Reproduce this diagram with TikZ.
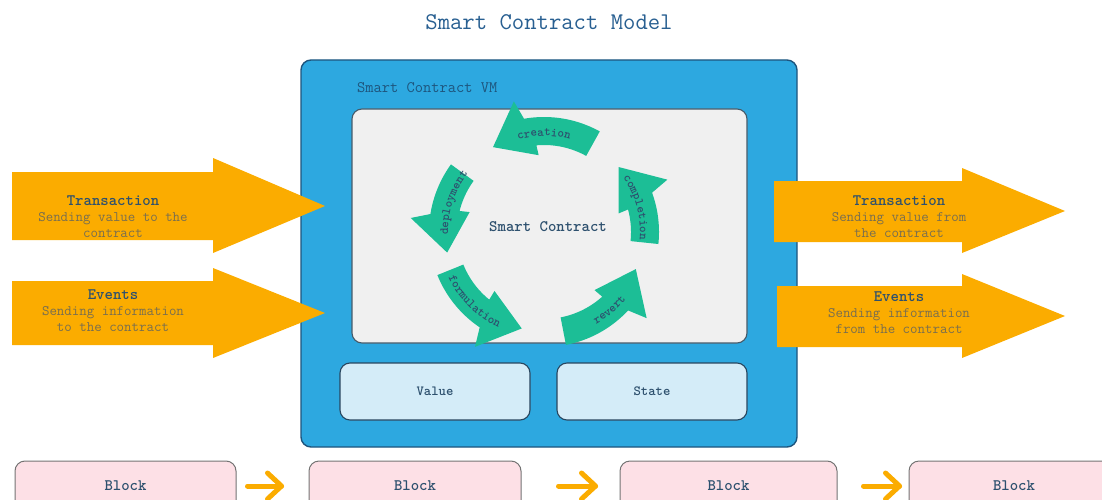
\documentclass[tikz,border=0pt]{standalone}
\usepackage{fontspec}
\usetikzlibrary{calc,decorations.text}
\definecolor{vmblue}{RGB}{45,168,224}
\definecolor{vmedge}{RGB}{30,85,125}
\definecolor{innerfill}{RGB}{240,240,240}
\definecolor{inneredge}{RGB}{70,90,105}
\definecolor{valfill}{RGB}{212,236,248}
\definecolor{valedge}{RGB}{40,70,95}
\definecolor{blkfill}{RGB}{253,224,230}
\definecolor{blkedge}{RGB}{115,115,115}
\definecolor{orng}{RGB}{251,172,0}
\definecolor{teal}{RGB}{28,190,150}
\definecolor{hdr}{RGB}{45,80,110}
\definecolor{subt}{RGB}{120,110,80}
\definecolor{titleblue}{RGB}{40,95,145}
\newcommand\cycfont{\ttfamily\bfseries\fontsize{12.5}{13}\selectfont}
% #1 start angle, #2 tip angle (screen angles, y down, centre 544,232)
\newcommand\cycarrow[2]{%
  \fill[teal] plot[domain=#1:#2+21,samples=30] ({544+115*cos(\x)},{232+115*sin(\x)})
   -- ({544+134*cos(#2+18)},{232+134*sin(#2+18)})
   -- ({544+99*cos(#2)},{232+99*sin(#2)})
   -- ({544+77*cos(#2+27)},{232+77*sin(#2+27)})
   -- plot[domain=#2+26:#1,samples=30] ({544+87*cos(\x)},{232+87*sin(\x)}) -- cycle;}
% label on arc: #1 from angle, #2 to angle, #3 baseline radius, #4 text
\newcommand\cyclabel[4]{%
  \path[decorate,decoration={text along path,text align=center,text color=hdr,
     text={|\cycfont|#4}}]
     plot[domain=#1:#2,samples=40] ({544+#3*cos(\x)},{232+#3*sin(\x)});}
\begin{document}
\begin{tikzpicture}[x=1pt,y=-1pt,font=\ttfamily,
  vmbox/.style={draw=vmedge,line width=1.4pt,fill=vmblue,rounded corners=10pt,inner sep=0pt},
  innerbox/.style={draw=inneredge,line width=1.1pt,fill=innerfill,rounded corners=10pt,inner sep=0pt},
  valbox/.style={draw=valedge,line width=1.1pt,fill=valfill,rounded corners=10pt,inner sep=0pt,
     text=hdr,font=\ttfamily\bfseries\fontsize{14}{16}\selectfont},
  blkbox/.style={draw=blkedge,line width=1pt,fill=blkfill,rounded corners=10pt,inner sep=0pt,
     minimum height=50pt,text=hdr,font=\ttfamily\bfseries\fontsize{16}{18}\selectfont},
  bigarrow/.style={fill=orng},
  arrtxt/.style={align=center,text=subt,font=\ttfamily\fontsize{14.5}{16}\selectfont},
  blkarr/.style={draw=orng,line width=5pt,line cap=round,line join=round}]
\useasboundingbox (0,0) rectangle (1102,500);
\clip (0,0) rectangle (1102,500);
% title
\node[text=titleblue,font=\ttfamily\fontsize{24}{26}\selectfont] (title) at (549,22) {Smart Contract Model};
% VM box
\node[vmbox,minimum width=496pt,minimum height=387pt] (vm) at (549,253.5) {};
\node[anchor=west,text=vmedge,font=\ttfamily\fontsize{16}{18}\selectfont,inner sep=0pt] (vmlbl) at (357,88) {Smart Contract VM};
\node[innerbox,minimum width=395pt,minimum height=234pt] (inner) at (549.5,226) {};
\node[valbox,minimum width=190pt,minimum height=57pt] (value) at (435,391.5) {Value};
\node[valbox,minimum width=190pt,minimum height=57pt] (state) at (652,391.5) {State};
% cycle arrows
\cycarrow{-61}{-121}
\cycarrow{6}{-41}
\cycarrow{79}{22}
\cycarrow{158}{103}
\cycarrow{216}{168}
\cyclabel{-130}{-50}{96}{creation}
\cyclabel{-55}{25}{96}{completion}
\cyclabel{90}{10}{106}{revert}
\cyclabel{175}{95}{106}{formulation}
\cyclabel{158}{238}{96}{deployment}
\node[text=hdr,font=\ttfamily\bfseries\fontsize{16}{18}\selectfont] (sc) at (548,227) {Smart Contract};
% big orange arrows
\fill[bigarrow] (12,172) -- (213,172) -- (213,158) -- (325,206) -- (213,253) -- (213,240) -- (12,240) -- cycle;
\fill[bigarrow] (12,281) -- (213,281) -- (213,268) -- (325,313) -- (213,358) -- (213,345) -- (12,345) -- cycle;
\fill[bigarrow] (774,181) -- (962,181) -- (962,168) -- (1065,211) -- (962,253) -- (962,242) -- (774,242) -- cycle;
\fill[bigarrow] (777,286) -- (962,286) -- (962,274) -- (1065,316) -- (962,358) -- (962,347) -- (777,347) -- cycle;
\node[arrtxt] (tin) at (113,217) {{\color{hdr}\fontsize{16}{16}\selectfont\bfseries Transaction}\\Sending value to the\\contract};
\node[arrtxt] (ein) at (113,311) {{\color{hdr}\fontsize{16}{16}\selectfont\bfseries Events}\\Sending information\\to the contract};
\node[arrtxt] (tout) at (899,217) {{\color{hdr}\fontsize{16}{16}\selectfont\bfseries Transaction}\\Sending value from\\the contract};
\node[arrtxt] (eout) at (899,313) {{\color{hdr}\fontsize{16}{16}\selectfont\bfseries Events}\\Sending information\\from the contract};
% blocks
\node[blkbox,minimum width=221pt] (b1) at (125.5,486) {Block};
\node[blkbox,minimum width=212pt] (b2) at (415,486) {Block};
\node[blkbox,minimum width=217pt] (b3) at (728.5,486) {Block};
\node[blkbox,minimum width=210pt] (b4) at (1014,486) {Block};
\foreach \a/\s/\l in {b1/11/34, b2/37/37, b3/26/36}{
  \coordinate (s\a) at ([xshift=\s pt]\a.east);
  \coordinate (h\a) at ([xshift=\s pt+\l pt]\a.east);
  \draw[blkarr] (s\a) -- (h\a);
  \draw[blkarr] ([xshift=-14pt,yshift=13pt]h\a) -- (h\a) -- ([xshift=-14pt,yshift=-13pt]h\a);
}
\end{tikzpicture}
\end{document}
